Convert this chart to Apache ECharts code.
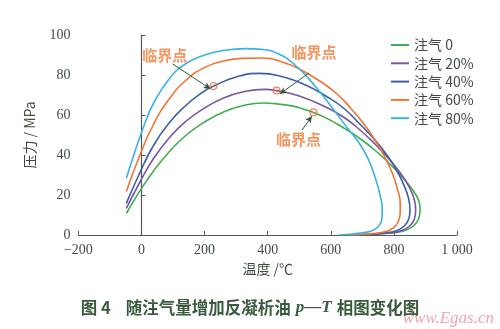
<!DOCTYPE html>
<html>
<head>
<meta charset="utf-8">
<script src="https://cdn.jsdelivr.net/npm/echarts@6/dist/echarts.min.js"></script>
<style>
  html, body { margin: 0; padding: 0; background: #ffffff; }
  #chart { width: 500px; height: 329px; }
</style>
</head>
<body>
<div id="chart"></div>
<script>
// Phase envelopes (temperature °C, pressure MPa) for each gas-injection ratio
const seriesNames = ['注气 0', '注气 20%', '注气 40%', '注气 60%', '注气 80%'];
const seriesColors = ['#3fae4c', '#7a55a6', '#3b5fa8', '#f07434', '#3ab2e2'];

const gas0 = [[-48,10.8],[-10,20.8],[37,31.8],[90,42],[142,50],[200,56.5],[260,61.5],[320,64.6],[385,66],[450,65.2],[545,61.3],[620,55.5],[690,48.5],[750,41],[800,33.5],[840,26.5],[866,21],[880,16.5],[883,12.5],[878,8],[862,4.5],[835,2.3],[790,1],[730,0.4],[665,0]];
const gas20 = [[-48,13.3],[-10,25],[37,38],[90,49],[142,57],[200,63.5],[260,68.5],[320,71.5],[390,72.8],[428,72.2],[500,69.5],[584,64],[640,59],[689,53],[740,45.5],[790,37],[825,30],[850,23.5],[865,17.5],[869,12.5],[865,8],[850,4.5],[825,2.3],[785,1],[730,0.4],[665,0]];
const gas40 = [[-48,15.8],[-10,29.5],[37,44.5],[90,56.5],[142,65],[190,71],[229,74.5],[300,79],[374,80.8],[450,79],[520,75],[584,69.5],[640,63.5],[689,56],[740,47.5],[780,39.5],[810,32],[833,24.5],[847,18],[851,12.5],[847,8],[833,4.5],[810,2.3],[770,1],[715,0.4],[655,0]];
const gas60 = [[-48,21.7],[-10,38],[37,55],[90,68.5],[142,77.5],[200,83.8],[260,87],[320,88.3],[383,88.5],[450,86.3],[500,83],[560,77.5],[620,70.5],[665,63],[705,55.5],[740,47.5],[771,39],[796,30.5],[812,22.5],[820,16],[820,11],[813,6.5],[798,3.5],[770,1.6],[730,0.7],[690,0.25],[655,0]];
const gas80 = [[-48,28.4],[-16,44],[10,55.5],[37,65.5],[90,78.5],[142,85.8],[200,90],[260,92.3],[330,93.2],[380,92.8],[435,90.5],[490,84.5],[550,74.5],[610,62.5],[650,54],[690,46],[720,37.5],[742,28],[756,20],[763,13],[762,8],[752,4.5],[732,2.3],[700,1.1],[660,0.4],[625,0]];

// Critical points and their call-out labels
const criticalPoints = [[228,74.5],[428,72.2],[545,61.3]];
const criticalLabel = '临界点';
const labelPositions = [[74,90],[547,91.5],[498,48]];
const arrowTails = [[99,85.5],[531,81],[509,52.5]];
const arrowHeads = [[219,73],[438,70.5],[540,59.5]];

// Axis ticks
const xTicks = [-200, 0, 200, 400, 600, 800, 1000];
const yTicks = [0, 20, 40, 60, 80, 100];

const envelopes = [gas0, gas20, gas40, gas60, gas80];

const axisColor = '#4f5e4f';
const textColor = '#3e4b3e';
const serif = '"Liberation Serif", "Noto Sans CJK SC", serif';
const cjk = '"Noto Sans CJK SC", sans-serif';

function fmtX(v) {
  if (v < 0) return '\u2212' + Math.abs(v);
  if (v >= 1000) return String(v).replace(/(\d)(\d{3})$/, '$1 $2');
  return String(v);
}

const lineSeries = envelopes.map((d, i) => ({
  name: seriesNames[i],
  type: 'line',
  data: d,
  smooth: 0.5,
  showSymbol: false,
  color: seriesColors[i],
  lineStyle: { width: 1.6, color: seriesColors[i] },
  z: 2
}));

const option = {
  animation: false,
  backgroundColor: '#ffffff',
  grid: { left: 78.4, right: 43, top: 35, bottom: 94 },
  xAxis: {
    type: 'value',
    min: xTicks[0], max: xTicks[xTicks.length - 1], interval: 200,
    name: '温度 /℃',
    nameLocation: 'middle',
    nameGap: 27,
    nameTextStyle: { color: textColor, fontSize: 14, fontFamily: cjk },
    axisLine: { lineStyle: { color: axisColor, width: 1.2 } },
    axisTick: { inside: true, length: 4, lineStyle: { color: axisColor } },
    axisLabel: { color: textColor, fontSize: 14, fontFamily: serif, margin: 8, formatter: fmtX },
    splitLine: { show: false }
  },
  yAxis: {
    type: 'value',
    min: yTicks[0], max: yTicks[yTicks.length - 1], interval: 20,
    name: '压力 / MPa',
    nameLocation: 'middle',
    nameRotate: 90,
    nameGap: 42,
    nameTextStyle: { color: textColor, fontSize: 14, fontFamily: cjk },
    axisLine: { show: true, lineStyle: { color: axisColor, width: 1.2 } },
    axisTick: { show: true, inside: true, length: 4, lineStyle: { color: axisColor } },
    axisLabel: { color: textColor, fontSize: 14, fontFamily: serif, margin: 8 },
    splitLine: { show: false }
  },
  legend: {
    orient: 'vertical',
    left: 386,
    top: 33,
    itemWidth: 18,
    itemHeight: 2,
    itemGap: 4.3,
    icon: 'rect',
    data: seriesNames,
    textStyle: { color: textColor, fontSize: 14, fontFamily: cjk, padding: [0, 0, 0, 0] }
  },
  title: {
    left: 'center',
    top: 294,
    text: '{a|图 4}   {b|随注气量增加反凝析油} {c|p—T} {b|相图变化图}',
    textStyle: {
      rich: {
        a: { fontSize: 16.5, fontWeight: 'bold', fontFamily: cjk, color: '#3a5a3e' },
        b: { fontSize: 16.5, fontWeight: 'bold', fontFamily: cjk, color: '#3a5a3e' },
        c: { fontSize: 17, fontWeight: 'bold', fontStyle: 'italic', fontFamily: serif, color: '#3a5a3e' }
      }
    }
  },
  graphic: [{
    type: 'text',
    right: 6,
    bottom: 2,
    style: { text: 'www.Egas.cn', fill: '#f2a3ad', font: 'italic 17px "Liberation Serif", serif' }
  }],
  series: lineSeries.concat([
    {
      name: 'critical',
      type: 'scatter',
      data: criticalPoints,
      symbol: 'circle',
      symbolSize: 7,
      itemStyle: { color: 'rgba(240,130,100,0.2)', borderColor: '#e8663c', borderWidth: 1.2 },
      z: 5,
      markLine: {
        silent: true,
        symbol: ['none', 'arrow'],
        symbolSize: [5, 7],
        label: { show: false },
        lineStyle: { color: '#2f5a3a', width: 1, type: 'solid' },
        data: arrowTails.map((t, i) => [{ coord: t }, { coord: arrowHeads[i] }])
      }
    },
    {
      name: 'labels',
      type: 'scatter',
      data: labelPositions,
      symbolSize: 0,
      label: {
        show: true,
        position: 'inside',
        formatter: criticalLabel,
        color: '#f07a3a',
        fontSize: 15,
        fontWeight: 'bold',
        fontFamily: cjk
      },
      z: 6
    }
  ])
};

const chart = echarts.init(document.getElementById('chart'), null, { renderer: 'canvas' });
chart.setOption(option);
</script>
</body>
</html>
